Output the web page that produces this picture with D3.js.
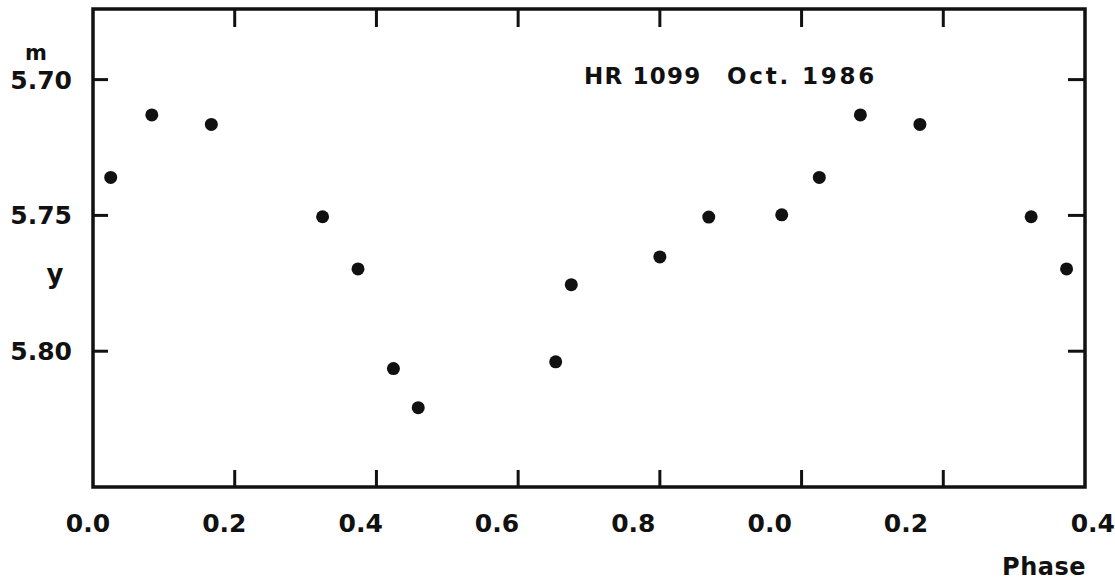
<!DOCTYPE html>
<html>
<head>
<meta charset="utf-8">
<script src="https://cdn.jsdelivr.net/npm/d3@7"></script>
<style>
  body { margin: 0; background: #fff; }
  text { font-family: "DejaVu Sans", sans-serif; fill: #111; }
</style>
</head>
<body>
<div id="chart"></div>
<script>
// HR 1099, Oct. 1986 -- y magnitude against phase (one cycle plus 0.4 repeated)
var phases = [0.025, 0.083, 0.167, 0.324, 0.374, 0.424, 0.459, 0.653, 0.675, 0.800, 0.869, 0.972];
var mags   = [5.736, 5.713, 5.7165, 5.7505, 5.7697, 5.8064, 5.8208, 5.8039, 5.7755, 5.7653, 5.7506, 5.7498];
var xTicks = [0, 0.2, 0.4, 0.6, 0.8, 1.0, 1.2, 1.4];
var xTickLabels = ["0.0", "0.2", "0.4", "0.6", "0.8", "0.0", "0.2", "0.4"];
var yTicks = [5.70, 5.75, 5.80];
var yTickLabels = ["5.70", "5.75", "5.80"];

var width = 1115, height = 585;
var plotLeft = 93, plotRight = 1085, plotTop = 9, plotBottom = 487;

var x = d3.scaleLinear().domain([0, 1.4]).range([plotLeft, plotRight]);
var y = d3.scaleLinear().domain([5.674, 5.85]).range([plotTop, plotBottom]);
// tick labels sit a little left of their ticks in the original
var xLab = d3.scaleLinear().domain([0, 1.2]).range([88, 906]);

var svg = d3.select("#chart").append("svg")
    .attr("width", width)
    .attr("height", height);

// repeat the first part of the cycle past phase 1.0
var points = phases.map(function (p, i) { return { phase: p, mag: mags[i] }; });
points.filter(function (d) { return d.phase < 0.4; }).forEach(function (d) {
    points.push({ phase: d.phase + 1, mag: d.mag });
});

// frame
svg.append("rect")
    .attr("x", plotLeft).attr("y", plotTop)
    .attr("width", plotRight - plotLeft).attr("height", plotBottom - plotTop)
    .attr("fill", "none")
    .attr("stroke", "#111")
    .attr("stroke-width", 3.5);

var inner = xTicks.slice(1, -1);
svg.selectAll(".xtick-b").data(inner).enter().append("line")
    .attr("class", "xtick-b")
    .attr("x1", x).attr("x2", x)
    .attr("y1", plotBottom).attr("y2", plotBottom - 17)
    .attr("stroke", "#111").attr("stroke-width", 3);
svg.selectAll(".xtick-t").data(inner).enter().append("line")
    .attr("class", "xtick-t")
    .attr("x1", x).attr("x2", x)
    .attr("y1", plotTop).attr("y2", plotTop + 18)
    .attr("stroke", "#111").attr("stroke-width", 3);
svg.selectAll(".ytick-l").data(yTicks).enter().append("line")
    .attr("class", "ytick-l")
    .attr("x1", plotLeft).attr("x2", plotLeft + 15)
    .attr("y1", y).attr("y2", y)
    .attr("stroke", "#111").attr("stroke-width", 3);
svg.selectAll(".ytick-r").data(yTicks).enter().append("line")
    .attr("class", "ytick-r")
    .attr("x1", plotRight).attr("x2", plotRight - 17)
    .attr("y1", y).attr("y2", y)
    .attr("stroke", "#111").attr("stroke-width", 3);

// tick labels
svg.selectAll(".xlab").data(xTicks).enter().append("text")
    .attr("class", "xlab")
    .attr("x", function (d, i) { return i === xTicks.length - 1 ? width : xLab(d); })
    .attr("y", 532)
    .attr("text-anchor", function (d, i) { return i === xTicks.length - 1 ? "end" : "middle"; })
    .style("font-size", "25px")
    .style("font-weight", "bold")
    .text(function (d, i) { return xTickLabels[i]; });

svg.selectAll(".ylab").data(yTicks).enter().append("text")
    .attr("class", "ylab")
    .attr("x", 72)
    .attr("y", function (d) { return y(d) + 9; })
    .attr("text-anchor", "end")
    .style("font-size", "25px")
    .style("font-weight", "bold")
    .text(function (d, i) { return yTickLabels[i]; });

svg.append("text")
    .attr("x", 36).attr("y", 60)
    .attr("text-anchor", "middle")
    .style("font-size", "21px")
    .style("font-weight", "bold")
    .text("m");

svg.append("text")
    .attr("x", 55).attr("y", 283)
    .attr("text-anchor", "middle")
    .style("font-size", "26px")
    .style("font-weight", "bold")
    .text("y");

svg.append("text")
    .attr("x", 1086).attr("y", 575)
    .attr("text-anchor", "end")
    .style("font-size", "24px")
    .style("font-weight", "bold")
    .style("letter-spacing", "0.5px")
    .text("Phase");

// title
svg.append("text")
    .attr("x", 584).attr("y", 84)
    .style("font-size", "23px")
    .style("font-weight", "bold")
    .style("letter-spacing", "1.2px")
    .text("HR 1099");
svg.append("text")
    .attr("x", 727).attr("y", 84)
    .style("font-size", "23px")
    .style("font-weight", "bold")
    .style("letter-spacing", "2.8px")
    .text("Oct. 1986");

// points
svg.selectAll(".dot").data(points).enter().append("circle")
    .attr("class", "dot")
    .attr("cx", function (d) { return x(d.phase); })
    .attr("cy", function (d) { return y(d.mag); })
    .attr("r", 6.5)
    .attr("fill", "#111");
</script>
</body>
</html>
